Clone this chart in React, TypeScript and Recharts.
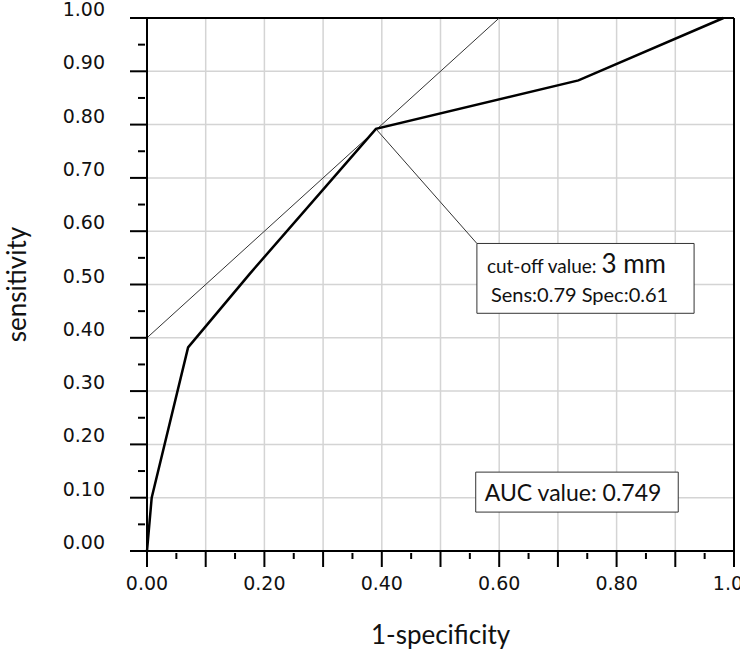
import React from "react";
import {
  ComposedChart,
  Line,
  XAxis,
  YAxis,
  CartesianGrid,
  ReferenceLine,
  ReferenceArea,
  Label,
} from "recharts";

// ROC curve points
const fpr = [0, 0.008, 0.07, 0.175, 0.39, 0.735, 0.982];
const tpr = [0, 0.1, 0.382, 0.52, 0.792, 0.883, 1.0];

// tangent line through the cut-off point
const tangentStart = { x: 0, y: 0.4 };
const tangentEnd = { x: 0.6, y: 1.0 };
const cutoffPoint = { x: 0.39, y: 0.792 };

const majorTicks = [0, 0.1, 0.2, 0.3, 0.4, 0.5, 0.6, 0.7, 0.8, 0.9, 1.0];
const minorTicks = [0.05, 0.15, 0.25, 0.35, 0.45, 0.55, 0.65, 0.75, 0.85, 0.95];
const tickLabels = ["0.00", "0.10", "0.20", "0.30", "0.40", "0.50", "0.60", "0.70", "0.80", "0.90", "1.00"];
const xTickValues = [0, 0.2, 0.4, 0.6, 0.8, 1.0];

const cutoffText = ["cut-off value: ", "3 mm", "Sens:0.79 Spec:0.61"];
const aucText = "AUC value: 0.749";

// annotation boxes in data units
const cutoffBox = { x1: 0.562, x2: 0.932, y1: 0.446, y2: 0.577 };
const aucBox = { x1: 0.56, x2: 0.905, y1: 0.073, y2: 0.148 };

const rocData = fpr.map((x, i) => ({ x, y: tpr[i] }));
const allTicks = [...majorTicks, ...minorTicks].sort((a, b) => a - b);

const tickFont = "'DejaVu Sans', sans-serif";
const textFont = "Lato, 'Noto Sans', sans-serif";

const labelFor = (v: number) => {
  const i = majorTicks.findIndex((t) => Math.abs(t - v) < 1e-6);
  return i >= 0 ? tickLabels[i] : null;
};

const YTick = (props: any) => {
  const { x, y, payload } = props;
  const label = labelFor(payload.value);
  if (label !== null) {
    return (
      <g>
        <line x1={x - 17} x2={x} y1={y} y2={y} stroke="#000" strokeWidth={2} />
        <text x={x - 42} y={y - 2} textAnchor="end" fontFamily={tickFont} fontSize={19} fill="#111">
          {label}
        </text>
      </g>
    );
  }
  return <line x1={x - 9} x2={x - 2} y1={y} y2={y} stroke="#000" strokeWidth={2} />;
};

const XTick = (props: any) => {
  const { x, y, payload } = props;
  const label = labelFor(payload.value);
  if (label !== null) {
    const show = xTickValues.some((t) => Math.abs(t - payload.value) < 1e-6);
    return (
      <g>
        <line x1={x} x2={x} y1={y} y2={y + 16} stroke="#000" strokeWidth={2} />
        {show && (
          <text x={x} y={y + 39} textAnchor="middle" fontFamily={tickFont} fontSize={19} fill="#111">
            {label}
          </text>
        )}
      </g>
    );
  }
  return <line x1={x} x2={x} y1={y + 2} y2={y + 8} stroke="#000" strokeWidth={2} />;
};

const CutoffLabel = (props: any) => {
  const { x, y } = props.viewBox;
  return (
    <g>
      <text x={x + 10} y={y + 30} fontFamily={textFont} fontSize={19} fill="#111">
        {cutoffText[0]}
        <tspan fontSize={26}>{cutoffText[1]}</tspan>
      </text>
      <text x={x + 14} y={y + 59} fontFamily={textFont} fontSize={20} fill="#111">
        {cutoffText[2]}
      </text>
    </g>
  );
};

const AucLabel = (props: any) => {
  const { x, y } = props.viewBox;
  return (
    <text x={x + 9} y={y + 29} fontFamily={textFont} fontSize={23} fill="#111">
      {aucText}
    </text>
  );
};

export default function App() {
  return (
    <div style={{ position: "absolute", left: 0, top: 0, background: "#fff" }}>
      <ComposedChart width={740} height={654} margin={{ top: 18, right: 6, bottom: 0, left: 0 }}>
        <CartesianGrid
          stroke="#d4d4d4"
          strokeWidth={1.5}
          horizontalValues={majorTicks}
          verticalValues={majorTicks}
        />
        <XAxis
          type="number"
          dataKey="x"
          domain={[0, 1]}
          ticks={allTicks}
          interval={0}
          height={103}
          tickSize={0}
          tickMargin={0}
          tickLine={false}
          axisLine={{ stroke: "#000", strokeWidth: 2 }}
          tick={<XTick />}
        >
          <Label
            content={(p: any) => (
              <text
                x={p.viewBox.x + p.viewBox.width / 2}
                y={p.viewBox.y + 93}
                textAnchor="middle"
                fontFamily={textFont}
                fontSize={26}
                fill="#111"
              >
                1-specificity
              </text>
            )}
          />
        </XAxis>
        <YAxis
          type="number"
          dataKey="y"
          domain={[0, 1]}
          ticks={allTicks}
          interval={0}
          width={147}
          tickSize={0}
          tickMargin={0}
          tickLine={false}
          axisLine={{ stroke: "#000", strokeWidth: 2 }}
          tick={<YTick />}
        >
          <Label
            content={(p: any) => {
              const cx = 26;
              const cy = p.viewBox.y + p.viewBox.height / 2;
              return (
                <text
                  x={cx}
                  y={cy}
                  textAnchor="middle"
                  transform={`rotate(-90 ${cx} ${cy})`}
                  fontFamily={textFont}
                  fontSize={26}
                  fill="#111"
                >
                  sensitivity
                </text>
              );
            }}
          />
        </YAxis>
        <ReferenceLine y={1} stroke="#000" strokeWidth={2} />
        <ReferenceLine x={1} stroke="#000" strokeWidth={2} />
        <ReferenceLine segment={[tangentStart, tangentEnd]} stroke="#333" strokeWidth={1} />
        <ReferenceLine
          segment={[cutoffPoint, { x: cutoffBox.x1, y: cutoffBox.y2 }]}
          stroke="#333"
          strokeWidth={1}
        />
        <Line
          data={rocData}
          dataKey="y"
          type="linear"
          stroke="#000"
          strokeWidth={2.5}
          dot={false}
          isAnimationActive={false}
        />
        <ReferenceArea
          x1={cutoffBox.x1}
          x2={cutoffBox.x2}
          y1={cutoffBox.y1}
          y2={cutoffBox.y2}
          fill="#fff"
          fillOpacity={1}
          stroke="#333"
          strokeWidth={1}
          label={<CutoffLabel />}
        />
        <ReferenceArea
          x1={aucBox.x1}
          x2={aucBox.x2}
          y1={aucBox.y1}
          y2={aucBox.y2}
          fill="#fff"
          fillOpacity={1}
          stroke="#333"
          strokeWidth={1}
          label={<AucLabel />}
        />
      </ComposedChart>
    </div>
  );
}
